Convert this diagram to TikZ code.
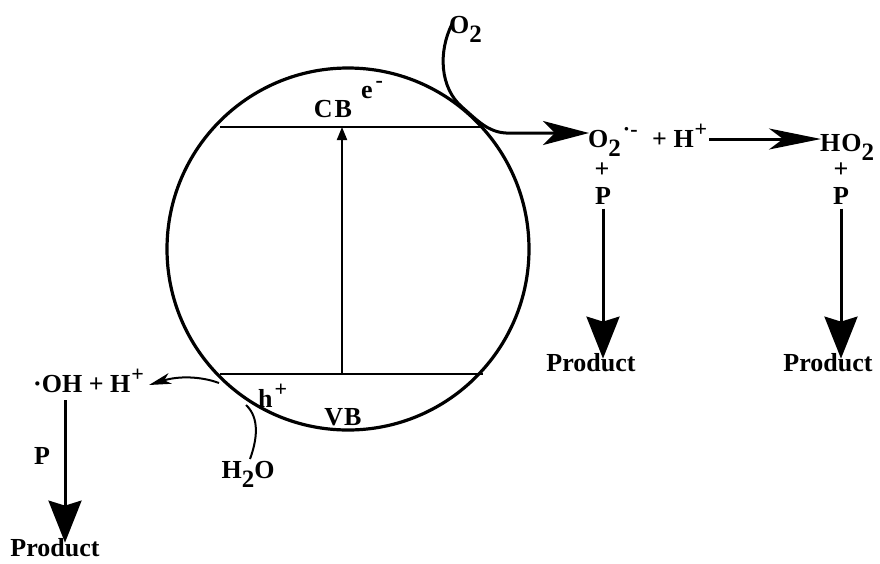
\documentclass[tikz,border=0pt]{standalone}
\usepackage{fontspec}
\setmainfont{Liberation Serif}
\usetikzlibrary{arrows.meta}
\newcommand{\chsub}[1]{\raisebox{-0.36em}{\fontsize{25}{25}\selectfont #1}}
\newcommand{\chsup}[1]{\raisebox{0.42em}{\fontsize{22}{22}\selectfont #1}}
\begin{document}
\begin{tikzpicture}[x=1pt,y=-1pt,
  txt/.style={inner sep=0pt, font=\fontsize{26}{29}\selectfont\bfseries},
  band/.style={line width=2pt},
  bigdown/.style={line width=3pt,-{Stealth[length=42pt,width=33pt,inset=5pt]}},
  curvearrow/.style={line width=3pt,-{Stealth[length=46pt,width=24pt,inset=12pt]}},
  rightarrow/.style={line width=3pt,-{Stealth[length=52pt,width=21pt,inset=14pt]}},
  smallarrow/.style={line width=2pt,-{Stealth[length=22pt,width=11pt,inset=6pt]}},
  excite/.style={line width=2pt,-{Triangle[length=13pt,width=10pt]}}]
\useasboundingbox (0,0) rectangle (880,563);

% particle
\node[circle, draw, line width=3.2pt, minimum size=362pt, inner sep=0pt] (circ) at (348,249) {};

% band levels
\coordinate (cbL) at (220,127);
\coordinate (cbR) at (482,127);
\coordinate (vbL) at (220,374);
\coordinate (vbR) at (483,374);
\coordinate (cbM) at (342,127);
\coordinate (vbM) at (342,374);
\draw[band] (cbL) -- (cbR);
\draw[band] (vbL) -- (vbR);
\draw[excite] (vbM) -- (cbM);

% labels inside
\node[txt, anchor=base] (cb) at (333,117) {C\kern2pt B};
\node[txt, anchor=base west] (eminus) at (361,98) {e\kern3pt\chsup{-}};
\node[txt, anchor=base] (vb) at (343,425) {V\kern1pt B};
\node[txt, anchor=base west] (hplus) at (258,407) {h\kern2pt\chsup{+}};

% reduction side
\node[txt, anchor=base west] (o2top) at (449,33) {O\chsub{2}};
\node[txt, anchor=base west] (o2rad) at (588,147) {O\chsub{2}\kern2pt\chsup{·-}};
\node[txt, anchor=base west] (hplus2) at (652,147) {+ H\kern1pt\chsup{+}};
\node[txt, anchor=base west] (ho2) at (820,151) {H\kern1pt O\chsub{2}};

\coordinate (o2start) at (452,24);
\coordinate (o2end) at (589,133);
\draw[curvearrow] (o2start) .. controls (438,52) and (440,88) .. (462,107)
   .. controls (478,121) and (488,132) .. (506,133) -- (o2end);

\coordinate (hstart) at (709,139);
\coordinate (hend) at (821,139);
\draw[rightarrow] (hstart) -- (hend);

\node[txt] (plus1) at (602,170) {+};
\node[txt] (p1) at (603,196) {P};
\node[txt] (plus2) at (841,170) {+};
\node[txt] (p2) at (841,196) {P};
\node[txt] (prod1) at (591,363) {Product};
\node[txt] (prod2) at (828,363) {Product};
\draw[bigdown] ([yshift=-4pt]p1.south) -- ([yshift=-5pt]p1.south |- prod1.north);
\draw[bigdown] ([yshift=-4pt]p2.south) -- ([yshift=-5pt]p2.south |- prod2.north);

% oxidation side
\node[txt] (prodL) at (55,548) {Product};
\node[txt, anchor=base west] (oh) at (33,392) {·OH + H\kern1pt\chsup{+}};
\node[txt] (pleft) at (42,456) {P};
\node[txt, anchor=base] (h2o) at (248,478) {H\chsub{2}O};

\coordinate (ohb) at (65,400);
\draw[bigdown] (ohb) -- ([yshift=-4pt]ohb |- prodL.north);

\coordinate (hcirc) at (219,383);
\coordinate (htip) at (149,385);
\draw[smallarrow] (hcirc) .. controls (200,376) and (178,376) .. (htip);

\coordinate (wtop) at (250,459);
\coordinate (wcirc) at (246,405);
\draw[line width=2pt] (wtop) .. controls (257,440) and (260,418) .. (wcirc);
\end{tikzpicture}
\end{document}
